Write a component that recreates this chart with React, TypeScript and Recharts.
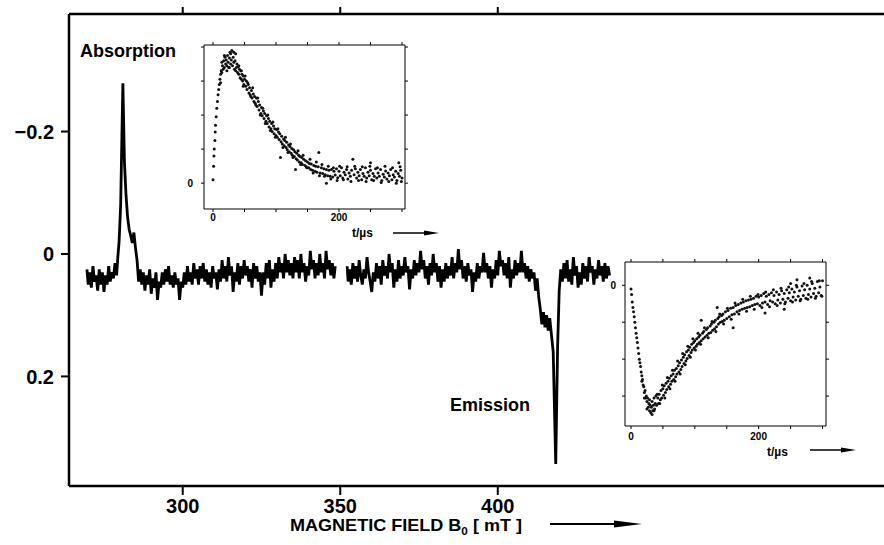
import React from 'react'
import { LineChart, Line, XAxis, YAxis, ScatterChart, Scatter } from 'recharts'

// main EPR trace, [field mT, signal] — low field scan (absorption line near 281 mT)
const LOW_FIELD_SCAN: [number, number][] = [
  [269.6, 0.025], [270, 0.05], [270.5, 0.03], [271, 0.055], [271.5, 0.02], [272, 0.045], [272.5, 0.035],
  [273, 0.06], [273.5, 0.025], [274, 0.05], [274.5, 0.03], [275, 0.062], [275.5, 0.035], [276, 0.05],
  [276.5, 0.02], [277, 0.045], [277.5, 0.03], [278, 0.04], [278.5, 0.015], [279, 0.035], [279.4, 0.005],
  [279.8, -0.02], [280.3, -0.08], [281, -0.279], [281.5, -0.15], [282, -0.096], [282.5, -0.06],
  [283, -0.04], [283.5, -0.03], [284, -0.018], [284.5, -0.035], [285, -0.01], [285.5, 0.01],
  [286, 0.045], [286.5, 0.025], [287, 0.05], [287.5, 0.03], [288, 0.06], [288.5, 0.035], [289, 0.05],
  [289.5, 0.025], [290, 0.065], [290.5, 0.04], [291, 0.055], [291.5, 0.03], [292, 0.075], [292.5, 0.045],
  [293, 0.055], [293.5, 0.03], [294, 0.05], [294.5, 0.025], [295, 0.045], [295.5, 0.02], [296, 0.05],
  [296.5, 0.035], [297, 0.055], [297.5, 0.03], [298, 0.05], [298.5, 0.04], [299, 0.075], [299.5, 0.045],
  [300, 0.055], [300.5, 0.03], [301, 0.05], [301.5, 0.02], [302, 0.045], [302.5, 0.03], [303, 0.05],
  [303.5, 0.015], [304, 0.04], [304.5, 0.025], [305, 0.05], [305.5, 0.02], [306, 0.04], [306.5, 0.015],
  [307, 0.045], [307.5, 0.025], [308, 0.05], [308.5, 0.03], [309, 0.055], [309.5, 0.02], [310, 0.04],
  [310.5, 0.03], [311, 0.058], [311.5, 0.025], [312, 0.045], [312.5, 0.01], [313, 0.04], [313.5, 0.02],
  [314, 0.045], [314.5, 0.005], [315, 0.035], [315.5, 0.02], [316, 0.062], [316.5, 0.03], [317, 0.045],
  [317.5, 0.015], [318, 0.05], [318.5, 0.02], [319, 0.04], [319.5, 0.01], [320, 0.035], [320.5, 0.02],
  [321, 0.045], [321.5, 0.025], [322, 0.055], [322.5, 0.015], [323, 0.04], [323.5, 0.02], [324, 0.045],
  [324.5, 0.03], [325, 0.068], [325.5, 0.03], [326, 0.05], [326.5, 0.015], [327, 0.04], [327.5, 0.01],
  [328, 0.055], [328.5, 0.025], [329, 0.045], [329.5, 0.015], [330, 0.04], [330.5, 0.005], [331, 0.03],
  [331.5, 0.015], [332, 0.04], [332.5, 0.0], [333, 0.03], [333.5, 0.01], [334, 0.035], [334.5, 0.015],
  [335, 0.04], [335.5, 0.005], [336, 0.03], [336.5, 0.01], [337, 0.04], [337.5, 0.0], [338, 0.03],
  [338.5, 0.015], [339, 0.045], [339.5, 0.02], [340, 0.035], [340.5, -0.005], [341, 0.025], [341.5, 0.01],
  [342, 0.04], [342.5, 0.015], [343, 0.035], [343.5, 0.0], [344, 0.03], [344.5, 0.015], [345, 0.04],
  [345.5, -0.005], [346, 0.025], [346.5, 0.01], [347, 0.035], [347.5, 0.015], [348, 0.04], [348.4, 0.02],
]

// high field scan (emission line near 418 mT)
const HIGH_FIELD_SCAN: [number, number][] = [
  [352.2, 0.02], [352.5, 0.045], [353, 0.025], [353.5, 0.05], [354, 0.015], [354.5, 0.04], [355, 0.02],
  [355.5, 0.045], [356, 0.01], [356.5, 0.035], [357, 0.05], [357.5, 0.025], [358, 0.04], [358.5, 0.005],
  [359, 0.03], [359.5, 0.045], [360, 0.062], [360.5, 0.03], [361, 0.045], [361.5, 0.015], [362, 0.04],
  [362.5, 0.02], [363, 0.05], [363.5, 0.01], [364, 0.035], [364.5, 0.02], [365, 0.04], [365.5, 0.0],
  [366, 0.03], [366.5, 0.015], [367, 0.055], [367.5, 0.025], [368, 0.045], [368.5, 0.01], [369, 0.04],
  [369.5, 0.02], [370, 0.035], [370.5, 0.005], [371, 0.03], [371.5, 0.02], [372, 0.058], [372.5, 0.025],
  [373, 0.04], [373.5, 0.01], [374, 0.035], [374.5, 0.015], [375, 0.03], [375.5, -0.005], [376, 0.025],
  [376.5, 0.01], [377, 0.04], [377.5, 0.02], [378, 0.05], [378.5, 0.015], [379, 0.035], [379.5, 0.0],
  [380, 0.03], [380.5, 0.015], [381, 0.045], [381.5, 0.02], [382, 0.055], [382.5, 0.025], [383, 0.045],
  [383.5, 0.015], [384, 0.04], [384.5, 0.02], [385, 0.035], [385.5, 0.005], [386, 0.04], [386.5, 0.015],
  [387, 0.03], [387.5, -0.008], [388, 0.025], [388.5, 0.01], [389, 0.04], [389.5, 0.02], [390, 0.045],
  [390.5, 0.015], [391, 0.035], [391.5, 0.025], [392, 0.062], [392.5, 0.03], [393, 0.045], [393.5, 0.015],
  [394, 0.04], [394.5, 0.02], [395, 0.03], [395.5, -0.002], [396, 0.03], [396.5, 0.015], [397, 0.04],
  [397.5, 0.02], [398, 0.055], [398.5, 0.025], [399, 0.04], [399.5, 0.01], [400, 0.035], [400.5, -0.005],
  [401, 0.02], [401.5, 0.01], [402, 0.035], [402.5, 0.015], [403, 0.04], [403.5, 0.005], [404, 0.055],
  [404.5, 0.025], [405, 0.04], [405.5, 0.01], [406, 0.035], [406.5, 0.015], [407, 0.03], [407.5, -0.005],
  [408, 0.03], [408.5, 0.015], [409, 0.04], [409.5, 0.02], [410, 0.045], [410.5, 0.025], [411, 0.04],
  [411.5, 0.03], [412, 0.06], [412.5, 0.04], [413, 0.07], [413.5, 0.09], [414, 0.115], [414.5, 0.095],
  [415, 0.12], [415.5, 0.1], [416, 0.125], [416.5, 0.105], [417, 0.13], [417.6, 0.16], [418.4, 0.343],
  [419, 0.15], [419.5, 0.06], [420, 0.025], [420.5, 0.045], [421, 0.015], [421.5, 0.04], [422, 0.01],
  [422.5, 0.045], [423, 0.025], [423.5, 0.05], [424, 0.005], [424.5, 0.035], [425, 0.02], [425.5, 0.055],
  [426, 0.03], [426.5, 0.05], [427, 0.015], [427.5, 0.04], [428, 0.02], [428.5, 0.045], [429, 0.005],
  [429.5, 0.03], [430, 0.02], [430.5, 0.05], [431, 0.025], [431.5, 0.04], [432, 0.01], [432.5, 0.035],
  [433, 0.02], [433.5, 0.045], [434, 0.015], [434.5, 0.04], [435, 0.02], [435.5, 0.035],
]

// time profiles of the inset plots, [t µs, signal in tick units]
const ABS_KINETIC: [number, number][] = [
  [0, 0.1], [1, 0.5], [1.5, 0.8], [2, 1.0], [3, 1.25], [3.5, 1.5], [4, 1.7], [5, 1.95], [6, 2.2],
  [7, 2.4], [8, 2.6], [9, 2.75], [10, 2.9], [11, 3.05], [12, 3.2], [12, 2.95], [13, 3.3], [14, 3.25],
  [15, 3.45], [16, 3.35], [17, 3.6], [18, 3.4], [19, 3.7], [20, 3.5], [21, 3.62], [22, 3.45],
  [23, 3.75], [24, 3.55], [25, 3.4], [26, 3.68], [27, 3.85], [28, 3.5], [29, 3.62], [30, 3.9],
  [31, 3.45], [32, 3.7], [33, 3.55], [34, 3.35], [35, 3.6], [36, 3.8], [37, 3.4], [38, 3.5],
  [39, 3.25], [40, 3.42], [41, 3.2], [42, 3.35], [43, 3.1], [44, 3.3], [45, 3.05], [46, 3.2],
  [47, 3.0], [48, 3.15], [49, 2.9], [50, 3.05], [52, 2.85], [53, 3.0], [54, 2.75], [56, 2.9],
  [57, 2.65], [58, 2.8], [60, 2.55], [61, 2.72], [62, 2.5], [64, 2.62], [65, 2.4], [66, 2.55],
  [68, 2.3], [69, 2.5], [70, 2.25], [72, 2.4], [73, 2.15], [74, 2.3], [76, 2.05], [77, 2.22],
  [78, 1.98], [80, 2.12], [81, 1.9], [82, 2.05], [84, 1.82], [85, 1.98], [86, 1.75], [88, 1.9],
  [89, 1.65], [90, 1.82], [92, 1.6], [93, 1.75], [94, 1.52], [96, 1.68], [97, 1.45], [98, 1.6],
  [100, 1.4], [101, 1.58], [102, 1.35], [104, 1.5], [105, 1.28], [106, 1.45], [107, 0.75], [108, 1.22],
  [109, 1.38], [110, 1.15], [112, 1.3], [113, 1.1], [114, 1.25], [116, 1.05], [117, 1.2], [118, 0.98],
  [120, 1.12], [121, 0.92], [122, 1.08], [124, 0.88], [125, 1.02], [126, 0.82], [128, 0.98],
  [129, 0.78], [130, 0.92], [131, 0.4], [132, 0.72], [133, 0.88], [134, 0.68], [136, 0.82],
  [137, 0.62], [138, 0.78], [140, 0.6], [141, 0.75], [142, 0.55], [144, 0.7], [146, 0.52],
  [147, 0.66], [148, 0.48], [150, 0.62], [152, 0.45], [153, 0.58], [155, 0.4], [156, 0.56],
  [158, 0.38], [160, 0.52], [162, 0.35], [163, 0.5], [165, 0.32], [167, 0.48], [168, 0.9],
  [170, 0.3], [172, 0.45], [174, 0.28], [176, 0.42], [178, 0.25], [180, 0.0], [180, 0.4],
  [182, 0.22], [184, 0.38], [186, 0.2], [188, 0.4], [190, 0.18], [192, 0.35], [194, 0.24],
  [196, 0.42], [198, 0.16], [200, 0.35], [202, 0.22], [204, 0.45], [206, 0.15], [208, 0.32],
  [210, 0.25], [212, 0.4], [214, 0.12], [216, 0.3], [218, 0.2], [220, 0.38], [222, 0.7],
  [224, 0.25], [226, 0.42], [228, 0.15], [230, 0.32], [232, 0.22], [234, 0.4], [236, 0.1],
  [238, 0.28], [240, 0.2], [242, 0.45], [244, 0.15], [246, 0.32], [248, 0.22], [250, 0.38],
  [250, 0.6], [252, 0.1], [254, 0.28], [256, 0.2], [258, 0.42], [260, 0.15], [262, 0.3], [264, 0.2],
  [266, 0.4], [268, 0.08], [270, 0.26], [272, 0.18], [274, 0.36], [276, 0.12], [278, 0.3],
  [280, 0.22], [282, 0.4], [284, 0.1], [286, 0.25], [288, 0.18], [290, 0.35], [292, 0.08],
  [294, 0.28], [295, 0.6], [296, 0.2], [298, 0.38], [300, 0.15],
  [14, 3.55], [18, 3.75], [22, 3.3], [26, 3.4], [28, 3.8], [33, 3.85], [36, 3.3], [41, 3.45],
  [45, 3.3], [48, 2.85], [51, 3.15], [55, 2.95], [59, 2.6], [63, 2.8], [67, 2.35], [71, 2.5],
  [75, 2.0], [79, 2.2], [83, 1.75], [87, 2.0], [91, 1.55], [95, 1.8], [99, 1.35], [103, 1.6],
  [111, 1.05], [115, 1.35], [119, 0.9], [123, 1.15], [127, 0.75], [135, 0.95], [139, 0.55],
  [143, 0.82], [149, 0.45], [154, 0.7], [159, 0.3], [164, 0.62], [169, 0.22], [173, 0.55],
  [177, 0.2], [183, 0.5], [187, 0.12], [191, 0.45], [197, 0.08], [201, 0.5], [207, 0.1], [213, 0.48],
  [219, 0.05], [225, 0.5], [231, 0.08], [237, 0.48], [243, 0.05], [249, 0.5], [255, 0.08],
  [261, 0.45], [267, 0.02], [273, 0.5], [279, 0.05], [285, 0.45], [291, 0.0], [297, 0.48], [299, 0.05],
]

const EMI_KINETIC: [number, number][] = [
  [0, -0.1], [1, -0.25], [2, -0.45], [3, -0.6], [4, -0.72], [5, -0.85], [6, -1.0], [7, -1.15],
  [8, -1.3], [9, -1.42], [10, -1.55], [11, -1.7], [12, -1.85], [13, -2.0], [14, -2.1], [15, -2.2],
  [16, -2.35], [17, -2.45], [18, -2.55], [19, -2.7], [20, -2.75], [21, -2.9], [22, -2.85],
  [23, -3.05], [24, -3.0], [25, -3.15], [26, -3.05], [27, -3.3], [28, -3.2], [29, -3.4], [30, -3.25],
  [31, -3.45], [32, -3.3], [33, -3.15], [34, -3.4], [35, -3.25], [36, -3.05], [37, -3.35],
  [38, -3.2], [39, -3.0], [40, -3.25], [42, -3.05], [43, -3.2], [44, -2.95], [46, -3.1], [47, -2.85],
  [48, -3.05], [50, -2.8], [51, -2.98], [52, -2.72], [54, -2.9], [55, -2.65], [56, -2.82],
  [58, -2.6], [59, -2.75], [60, -2.52], [62, -2.68], [63, -2.45], [64, -2.6], [66, -2.4],
  [67, -2.55], [68, -2.3], [70, -2.48], [71, -2.25], [72, -2.4], [74, -2.18], [75, -2.35],
  [76, -2.1], [78, -2.28], [79, -2.02], [80, -2.2], [82, -1.95], [83, -2.12], [84, -1.88],
  [86, -2.05], [87, -1.8], [88, -1.98], [90, -1.75], [91, -1.9], [92, -1.68], [94, -1.82],
  [95, -1.6], [96, -1.75], [98, -1.55], [99, -1.7], [100, -1.5], [102, -1.65], [103, -1.45],
  [104, -1.6], [106, -1.4], [107, -1.55], [108, -1.35], [110, -1.5], [110, -0.95], [112, -1.3],
  [113, -1.45], [114, -1.25], [116, -1.4], [118, -1.2], [119, -1.35], [120, -1.15], [122, -1.3],
  [124, -1.1], [125, -1.28], [126, -1.05], [128, -1.22], [130, -1.0], [131, -1.18], [132, -0.95],
  [134, -1.12], [135, -0.6], [136, -0.9], [137, -1.05], [138, -0.85], [140, -1.0], [142, -0.82],
  [143, -0.98], [144, -0.78], [146, -0.95], [148, -0.72], [150, -0.9], [152, -0.68], [154, -0.85],
  [156, -0.62], [158, -0.8], [160, -0.6], [160, -1.15], [162, -0.78], [164, -0.55], [166, -0.72],
  [168, -0.52], [170, -0.68], [172, -0.48], [174, -0.65], [176, -0.45], [178, -0.62], [180, -0.42],
  [182, -0.6], [184, -0.4], [186, -0.58], [188, -0.38], [190, -0.55], [192, -0.35], [194, -0.52],
  [196, -0.3], [198, -0.5], [200, -0.32], [202, -0.55], [204, -0.28], [206, -0.48], [208, -0.22],
  [210, -0.45], [210, -0.75], [212, -0.3], [214, -0.52], [216, -0.25], [218, -0.42], [220, -0.2],
  [222, -0.45], [224, -0.28], [226, -0.5], [228, -0.18], [230, -0.4], [232, -0.25], [234, -0.48],
  [236, -0.15], [238, -0.38], [240, -0.22], [240, -0.65], [242, -0.45], [244, -0.12], [246, -0.35],
  [248, -0.2], [250, -0.42], [250, 0.05], [252, -0.1], [254, -0.32], [256, -0.18], [258, -0.4],
  [260, -0.05], [260, 0.15], [262, -0.3], [264, -0.15], [266, -0.38], [268, -0.02], [270, -0.28],
  [272, -0.12], [274, -0.35], [276, 0.0], [278, -0.25], [280, -0.1], [280, 0.2], [282, -0.32],
  [284, 0.05], [286, -0.22], [288, -0.08], [290, -0.3], [292, 0.1], [294, -0.2], [296, -0.05],
  [298, -0.28], [300, 0.12],
  [17, -2.6], [21, -3.05], [25, -3.35], [29, -3.1], [33, -3.5], [36, -3.4], [41, -2.95], [45, -3.2],
  [49, -2.7], [53, -3.05], [57, -2.5], [61, -2.8], [65, -2.3], [69, -2.6], [73, -2.05], [77, -2.4],
  [81, -1.85], [85, -2.15], [89, -1.65], [93, -1.95], [97, -1.45], [101, -1.75], [105, -1.3],
  [109, -1.6], [115, -1.15], [121, -1.42], [127, -0.98], [133, -1.25], [139, -0.78], [145, -1.05],
  [151, -0.62], [157, -0.92], [163, -0.48], [169, -0.78], [175, -0.38], [181, -0.7], [187, -0.3],
  [193, -0.65], [199, -0.25], [205, -0.6], [211, -0.18], [217, -0.58], [223, -0.12], [229, -0.55],
  [235, -0.08], [241, -0.5], [247, -0.05], [253, -0.45], [259, 0.0], [265, -0.42], [271, 0.05],
  [277, -0.38], [283, 0.1], [289, -0.35], [295, 0.12], [299, -0.3],
]

const FIELD_TICKS = [300, 350, 400]
const SIGNAL_TICKS = [-0.2, 0, 0.2]
const SIGNAL_LABELS = ['\u22120.2', '0', '0.2']
const TIME_TICKS = [0, 50, 100, 150, 200, 250, 300]
const TIME_LABELS = [0, 200]
const ABS_UNIT_TICKS = [0, 1, 2, 3, 4]
const EMI_UNIT_TICKS = [0, -1, -2, -3]

const FONT = '"Liberation Sans", Arial, Helvetica, sans-serif'
const INK = '#000'

const trace = [
  ...LOW_FIELD_SCAN.map(([f, v]) => ({ f, v })),
  { f: 350, v: null },
  ...HIGH_FIELD_SCAN.map(([f, v]) => ({ f, v })),
]
const absPoints = ABS_KINETIC.map(([t, v]) => ({ t, v }))
const emiPoints = EMI_KINETIC.map(([t, v]) => ({ t, v }))

const dot = (p: any) => <circle cx={p.cx} cy={p.cy} r={1.5} fill="#111" />
const noLabel = () => <g />

const insetTick = { fill: INK, fontSize: 10, fontWeight: 700, fontFamily: FONT }
const thin = { stroke: INK, strokeWidth: 1 }

function Inset({
  points, left, top, yDomain, yTicks, xDomain, yLabelGap, xLabelGap,
}: {
  points: { t: number; v: number }[]
  left: number
  top: number
  yDomain: [number, number]
  yTicks: number[]
  xDomain: [number, number]
  yLabelGap: number
  xLabelGap: number
}) {
  return (
    <div style={{ position: 'absolute', left, top }}>
      <ScatterChart width={229} height={191} margin={{ top: 2, right: 2, bottom: 0, left: 0 }}>
        <XAxis xAxisId="b" type="number" dataKey="t" domain={xDomain} ticks={TIME_TICKS}
          allowDataOverflow height={19} tickSize={3} tickMargin={xLabelGap}
          axisLine={thin} tickLine={thin} tick={insetTick}
          tickFormatter={(v: number) => (TIME_LABELS.includes(v) ? String(v) : '')} />
        <XAxis xAxisId="t" orientation="top" type="number" dataKey="t" domain={xDomain}
          ticks={TIME_TICKS} allowDataOverflow height={6} tickSize={3}
          axisLine={thin} tickLine={thin} tick={noLabel} />
        <YAxis yAxisId="l" type="number" dataKey="v" domain={yDomain} ticks={yTicks}
          allowDataOverflow width={20} tickSize={3} tickMargin={yLabelGap}
          axisLine={thin} tickLine={thin} tick={insetTick}
          tickFormatter={(v: number) => (v === 0 ? '0' : '')} />
        <YAxis yAxisId="r" orientation="right" type="number" dataKey="v" domain={yDomain}
          ticks={yTicks} allowDataOverflow width={6} tickSize={3}
          axisLine={thin} tickLine={thin} tick={noLabel} />
        <Scatter xAxisId="b" yAxisId="l" data={points} shape={dot} isAnimationActive={false} />
      </ScatterChart>
    </div>
  )
}

export default function App() {
  return (
    <div style={{ position: 'absolute', left: 0, top: 0, width: 884, height: 545, background: '#fff', overflow: 'hidden' }}>
      <LineChart width={884} height={545} margin={{ top: 4, right: 0, bottom: 0, left: 8 }}>
        <XAxis xAxisId="b" type="number" dataKey="f" domain={[263.9, 522.6]} ticks={FIELD_TICKS}
          allowDataOverflow height={59} tickSize={9} tickMargin={4}
          axisLine={{ stroke: INK, strokeWidth: 2.5 }} tickLine={{ stroke: INK, strokeWidth: 2 }}
          tick={{ fill: INK, fontSize: 20, fontWeight: 700, fontFamily: FONT }} />
        <XAxis xAxisId="t" orientation="top" type="number" dataKey="f" domain={[263.9, 522.6]}
          ticks={FIELD_TICKS} allowDataOverflow height={10} tickSize={7}
          axisLine={{ stroke: INK, strokeWidth: 2.5 }} tickLine={{ stroke: INK, strokeWidth: 2 }}
          tick={noLabel} />
        <YAxis yAxisId="l" type="number" reversed domain={[-0.392, 0.379]} ticks={SIGNAL_TICKS}
          allowDataOverflow width={61} tickSize={8} tickMargin={7}
          axisLine={{ stroke: INK, strokeWidth: 2.5 }} tickLine={{ stroke: INK, strokeWidth: 2 }}
          tick={{ fill: INK, fontSize: 20, fontWeight: 700, fontFamily: FONT }}
          tickFormatter={(v: number) => SIGNAL_LABELS[SIGNAL_TICKS.indexOf(v)]} />
        <Line xAxisId="b" yAxisId="l" data={trace} dataKey="v" type="linear" stroke={INK}
          strokeWidth={2.8} dot={false} connectNulls={false} isAnimationActive={false} />
      </LineChart>

      <Inset points={absPoints} left={184} top={37} xDomain={[-14.3, 304.8]}
        yDomain={[-0.76, 4.06]} yTicks={ABS_UNIT_TICKS} yLabelGap={8} xLabelGap={2} />
      <Inset points={emiPoints} left={605} top={254} xDomain={[-9.4, 305.5]}
        yDomain={[-3.81, 0.63]} yTicks={EMI_UNIT_TICKS} yLabelGap={6} xLabelGap={4} />

      <svg width={884} height={545} style={{ position: 'absolute', left: 0, top: 0, pointerEvents: 'none' }}
        fontFamily={FONT} fill={INK}>
        <text x={80} y={57} fontSize={18} fontWeight={700}>Absorption</text>
        <text x={450} y={411} fontSize={18} fontWeight={700}>Emission</text>

        <text x={290} y={531} fontSize={17} fontWeight={700} textLength={232} lengthAdjust="spacingAndGlyphs">
          MAGNETIC FIELD B<tspan fontSize={11} dy={4}>0</tspan><tspan dy={-4}> [ mT ]</tspan>
        </text>
        <line x1={550} y1={524} x2={620} y2={524} stroke={INK} strokeWidth={2} />
        <polygon points="614,520.5 642,524 614,527.5" />

        <text x={352} y={237} fontSize={12} fontWeight={700}>t/µs</text>
        <line x1={393} y1={233} x2={426} y2={233} stroke={INK} strokeWidth={1.5} />
        <polygon points="424,230.5 439,233 424,235.5" />

        <text x={767} y={456} fontSize={12} fontWeight={700}>t/µs</text>
        <line x1={810} y1={450} x2={843} y2={450} stroke={INK} strokeWidth={1.5} />
        <polygon points="841,447.5 856,450 841,452.5" />
      </svg>
    </div>
  )
}
